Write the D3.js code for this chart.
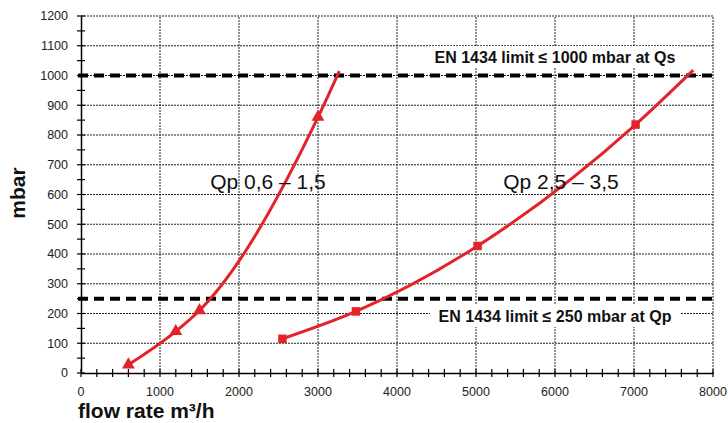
<!DOCTYPE html>
<html><head><meta charset="utf-8">
<script src="https://cdn.jsdelivr.net/npm/d3@7"></script>
<style>body{margin:0;background:#fff}svg{display:block}</style>
</head><body>
<svg id="c" width="728" height="423"></svg>
<script>
// data
const xTicks = [0,1000,2000,3000,4000,5000,6000,7000,8000];
const yTicks = [0,100,200,300,400,500,600,700,800,900,1000,1100,1200];
const seriesSmallFlow = [600,1200,1500,3000,3270];
const seriesSmallPress = [28,140,210,860,1015];
const seriesSmallMarked = [true,true,true,true,false];
const seriesLargeFlow = [2550,3480,5020,7020,7750];
const seriesLargePress = [115,207,427,835,1018];
const seriesLargeMarked = [true,true,true,true,false];
const limits = [1000,250];
const limitLabels = ["EN 1434 limit ≤ 1000 mbar at Qs","EN 1434 limit ≤ 250 mbar at Qp"];
const seriesNames = ["Qp 0,6 – 1,5","Qp 2,5 – 3,5"];

const svg = d3.select("#c");
const x = d3.scaleLinear().domain([0,8000]).range([81,713]);
const y = d3.scaleLinear().domain([0,1200]).range([373,16]);
const red = "#e3232a";
const font = "Liberation Sans, Arial, sans-serif";

// grid
const g = svg.append("g");
g.selectAll(".hg").data(yTicks.slice(1)).join("line")
 .attr("x1",x(0)).attr("x2",x(8000)).attr("y1",d=>y(d)).attr("y2",d=>y(d))
 .attr("stroke","#222").attr("stroke-width",1).attr("stroke-dasharray","2,1");
g.selectAll(".vg").data(xTicks.slice(1)).join("line")
 .attr("y1",y(0)).attr("y2",y(1200)).attr("x1",d=>x(d)).attr("x2",d=>x(d))
 .attr("stroke","#222").attr("stroke-width",1).attr("stroke-dasharray","2,1");

// label backgrounds
const labelPos = [[555,57],[555,316]];
limitLabels.forEach((t,i)=>{
  svg.append("rect").attr("x",430).attr("y",labelPos[i][1]-11).attr("width",250).attr("height",22).attr("fill","#fff");
});

// limit lines
svg.selectAll(".lim").data(limits).join("line")
 .attr("x1",x(0)-3).attr("x2",x(8000)).attr("y1",d=>y(d)).attr("y2",d=>y(d))
 .attr("stroke","#000").attr("stroke-width",4).attr("stroke-dasharray","10,6");

// axes
const ya = d3.axisLeft(y).tickValues(d3.range(0,1201,50)).tickSize(0).tickFormat("");
svg.append("g").attr("transform",`translate(${x(0)},0)`).call(ya).call(s=>s.select(".domain").attr("stroke","#000").attr("stroke-width",1.5));
svg.append("g").selectAll("line").data(d3.range(0,1201,50)).join("line")
 .attr("x1",x(0)-4).attr("x2",x(0)+4).attr("y1",d=>y(d)).attr("y2",d=>y(d)).attr("stroke","#000").attr("stroke-width",1.2);
svg.append("g").selectAll("text").data(yTicks).join("text")
 .attr("x",x(0)-13).attr("y",d=>y(d)).attr("dy","0.35em").attr("text-anchor","end")
 .attr("font-family",font).attr("font-size",12.5).attr("fill","#222").text(d=>d);

const xa = d3.axisBottom(x).tickValues(d3.range(0,8001,200)).tickSize(0).tickFormat("");
svg.append("g").attr("transform",`translate(0,${y(0)})`).call(xa).call(s=>s.select(".domain").attr("stroke","#000").attr("stroke-width",1.5));
svg.append("g").selectAll("line").data(d3.range(0,8001,200)).join("line")
 .attr("x1",d=>x(d)).attr("x2",d=>x(d)).attr("y1",y(0)-4).attr("y2",y(0)+4).attr("stroke","#000").attr("stroke-width",1.2);
svg.append("g").selectAll("text").data(xTicks).join("text")
 .attr("x",d=>x(d)).attr("y",392).attr("dy","0.35em").attr("text-anchor","middle")
 .attr("font-family",font).attr("font-size",12.5).attr("fill","#222").text(d=>d);

// series
const line = d3.line().x(d=>x(d[0])).y(d=>y(d[1])).curve(d3.curveMonotoneX);
function series(fl,pr,mk,shape){
  const pts = fl.map((f,i)=>[f,pr[i],mk[i]]);
  svg.append("path").datum(pts).attr("d",line).attr("fill","none").attr("stroke",red).attr("stroke-width",3);
  const sym = d3.symbol().type(shape).size(shape===d3.symbolTriangle?72:72);
  svg.append("g").selectAll("path").data(pts.filter(p=>p[2])).join("path")
   .attr("transform",p=>`translate(${x(p[0])},${y(p[1])})`).attr("d",sym).attr("fill",red);
}
series(seriesSmallFlow,seriesSmallPress,seriesSmallMarked,d3.symbolTriangle);
series(seriesLargeFlow,seriesLargePress,seriesLargeMarked,d3.symbolSquare);

// labels
limitLabels.forEach((t,i)=>{
  svg.append("text").attr("x",labelPos[i][0]).attr("y",labelPos[i][1]).attr("dy","0.35em")
   .attr("text-anchor","middle").attr("font-family",font).attr("font-weight","bold").attr("font-size",16).attr("fill","#111").text(t);
});
const namePos = [[268,182],[561,182]];
seriesNames.forEach((t,i)=>{
  svg.append("text").attr("x",namePos[i][0]).attr("y",namePos[i][1]).attr("dy","0.35em")
   .attr("text-anchor","middle").attr("font-family",font).attr("font-size",21).attr("fill","#111").text(t);
});

svg.append("text").attr("transform","translate(25,193) rotate(-90)").attr("text-anchor","middle")
 .attr("font-family",font).attr("font-weight","bold").attr("font-size",21).attr("fill","#111").text("mbar");
svg.append("text").attr("x",78).attr("y",418)
 .attr("font-family",font).attr("font-weight","bold").attr("font-size",21).attr("fill","#111").text("flow rate m³/h");
</script>
</body></html>
